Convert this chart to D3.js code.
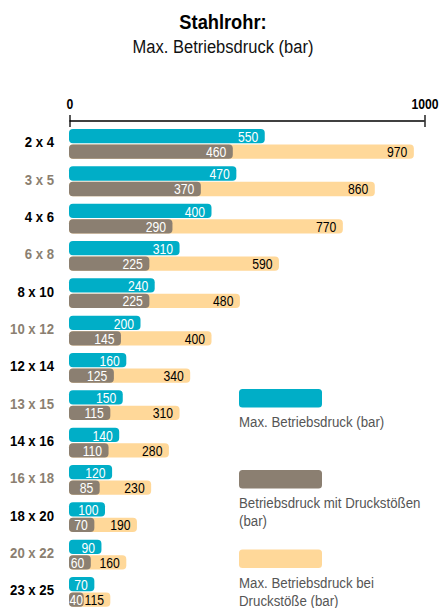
<!DOCTYPE html>
<html>
<head>
<meta charset="utf-8">
<script src="https://cdn.jsdelivr.net/npm/d3@7"></script>
<style>
  html, body { margin: 0; padding: 0; background: #fff; }
  svg { display: block; font-family: "Liberation Sans", Arial, sans-serif; }
</style>
</head>
<body>
<svg id="chart" width="440" height="608"></svg>
<script>
const categories = ["2 x 4", "3 x 5", "4 x 6", "6 x 8", "8 x 10", "10 x 12", "12 x 14",
                    "13 x 15", "14 x 16", "16 x 18", "18 x 20", "20 x 22", "23 x 25"];
const maxBetriebsdruck = [550, 470, 400, 310, 240, 200, 160, 150, 140, 120, 100, 90, 70];
const betriebsdruckMitStoessen = [460, 370, 290, 225, 225, 145, 125, 115, 110, 85, 70, 60, 40];
const maxBeiStoessen = [970, 860, 770, 590, 480, 400, 340, 310, 280, 230, 190, 160, 115];
const axisTicks = [0, 1000];

const legendItems = [
  { key: "teal", lines: ["Max. Betriebsdruck (bar)"] },
  { key: "brown", lines: ["Betriebsdruck mit Druckstößen", "(bar)"] },
  { key: "sand", lines: ["Max. Betriebsdruck bei", "Druckstöße (bar)"] }
];

const colors = { teal: "#00aec7", brown: "#8b7f71", sand: "#ffd899", gray: "#8b7f71" };

// condensed look: squeeze glyphs horizontally around each text's anchor point
const SX = 0.87;
function condense(sel, sx = SX) {
  sel.each(function () {
    const t = d3.select(this);
    const x = +t.attr("x") || 0, y = +t.attr("y") || 0;
    t.attr("x", null).attr("y", null).attr("dy", null)
      .attr("transform", `translate(${x},${y}) scale(${sx},1)`);
  });
}

const svg = d3.select("#chart");

const x = d3.scaleLinear().domain([0, 1000]).range([69.5, 424.5]);
const y = d3.scaleBand().domain(categories).range([125, 125 + 13 * 37.33]);

// Title
svg.append("text").attr("x", 223).attr("y", 29.3).attr("text-anchor", "middle")
  .attr("font-weight", "bold").attr("font-size", 21).attr("fill", "#000").text("Stahlrohr:")
  .call(condense);
svg.append("text").attr("x", 223).attr("y", 53).attr("text-anchor", "middle")
  .attr("font-size", 19).attr("fill", "#111").text("Max. Betriebsdruck (bar)")
  .call(condense);

// Axis on top
const axisY = 121;
const axis = d3.axisTop(x).tickValues(axisTicks).tickSize(0).tickPadding(0).tickFormat(d3.format("d"));
const gAxis = svg.append("g").attr("transform", `translate(0,${axisY})`).call(axis);
gAxis.select(".domain").remove();
gAxis.selectAll(".tick text").attr("font-size", 14).attr("font-weight", "bold").attr("fill", "#000")
  .attr("font-family", null).attr("x", 0).attr("y", -12.5).call(condense);
gAxis.append("line").attr("x1", x(0)).attr("x2", x(1000)).attr("y1", 0).attr("y2", 0)
  .attr("stroke", "#000").attr("stroke-width", 1.3);
gAxis.selectAll(".tick").append("line").attr("y1", -6).attr("y2", 6)
  .attr("stroke", "#000").attr("stroke-width", 1.3);

const rows = categories.map((c, i) => ({
  cat: c, i, a: maxBetriebsdruck[i], b: betriebsdruckMitStoessen[i], c2: maxBeiStoessen[i]
}));

const barH = 14.3;
const g = svg.append("g");
const row = g.selectAll("g.row").data(rows).join("g").attr("class", "row")
  .attr("transform", d => `translate(0,${y(d.cat)})`);

// Category labels
row.append("text").attr("x", 54).attr("y", 22.4).attr("text-anchor", "end")
  .attr("font-weight", "bold").attr("font-size", 15.5)
  .attr("fill", d => d.i % 2 === 0 ? "#000" : colors.gray).text(d => d.cat)
  .call(condense, 0.85);

const r = 4;
row.append("rect").attr("x", x(0) - 0.5).attr("y", 4).attr("height", barH)
  .attr("width", d => x(d.a) - x(0) + 0.5).attr("rx", r).attr("fill", colors.teal);
row.append("rect").attr("x", x(0) - 0.5).attr("y", 19.5).attr("height", barH)
  .attr("width", d => x(d.c2) - x(0) + 0.5).attr("rx", r).attr("fill", colors.sand);
row.append("rect").attr("x", x(0) - 0.5).attr("y", 19.5).attr("height", barH)
  .attr("width", d => x(d.b) - x(0) + 0.5).attr("rx", r).attr("fill", colors.brown);

const pad = 6.5;
const fs = 14;
// teal values
row.append("text").attr("y", 17).attr("font-size", fs).attr("fill", "#fff")
  .attr("text-anchor", "end").text(d => d.a)
  .each(function (d) {
    const w = this.getComputedTextLength() * SX;
    d3.select(this).attr("x", Math.max(x(d.a) - pad, x(0) + w + 1));
  })
  .call(condense);
// brown values
row.append("text").attr("class", "bv").attr("y", 32).attr("font-size", fs).attr("fill", "#fff")
  .attr("text-anchor", "end").text(d => d.b)
  .each(function (d) {
    const w = this.getComputedTextLength() * SX;
    const xe = Math.max(x(d.b) - pad, x(0) + w);
    d.bEnd = xe;
    d3.select(this).attr("x", xe);
  })
  .call(condense);
// sand values
row.append("text").attr("y", 32).attr("font-size", fs).attr("fill", "#000")
  .attr("text-anchor", "end").text(d => d.c2)
  .each(function (d) {
    const w = this.getComputedTextLength() * SX;
    d3.select(this).attr("x", Math.max(x(d.c2) - pad, d.bEnd + 1.5 + w));
  })
  .call(condense);
// brown labels stay on top where they overhang the sand bar
row.select("text.bv").raise();

// Legend
const legendY = [389, 470, 549.5];
const lg = svg.append("g");
legendItems.forEach((item, k) => {
  lg.append("rect").attr("x", 239).attr("y", legendY[k]).attr("width", 83).attr("height", 18.5)
    .attr("rx", 3.5).attr("fill", colors[item.key]);
  item.lines.forEach((t, j) => {
    lg.append("text").attr("x", 239).attr("y", legendY[k] + 38 + j * 18)
      .attr("font-size", 15).attr("fill", "#555").text(t)
      .call(condense, 0.885);
  });
});
</script>
</body>
</html>
